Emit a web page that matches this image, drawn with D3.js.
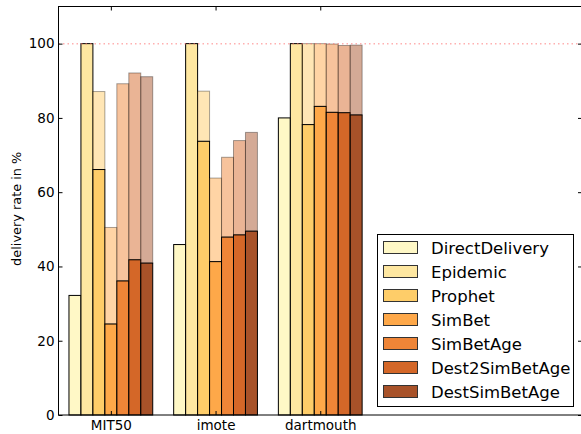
<!DOCTYPE html>
<html>
<head>
<meta charset="utf-8">
<script src="https://cdn.jsdelivr.net/npm/d3@7"></script>
<style>
  body { margin: 0; background: #fff; }
  svg { display: block; font-family: "DejaVu Sans", sans-serif; }
</style>
</head>
<body>
<div id="container"></div>
<script>
const categories = ['MIT50', 'imote', 'dartmouth'];
const seriesNames = ['DirectDelivery', 'Epidemic', 'Prophet', 'SimBet', 'SimBetAge', 'Dest2SimBetAge', 'DestSimBetAge'];
// delivered messages (solid part), one array per series, per category
const delivered = [
  [32.2, 45.9, 80.0],
  [100, 100, 100],
  [66.1, 73.7, 78.2],
  [24.5, 41.3, 83.1],
  [36.1, 47.9, 81.5],
  [41.8, 48.5, 81.4],
  [40.9, 49.5, 80.8],
];
// upper light part (null = none)
const upper = [
  null,
  null,
  [87.1, 87.2, 100],
  [50.5, 63.8, 100],
  [89.2, 69.4, 99.9],
  [92.1, 73.9, 99.5],
  [91.1, 76.1, 99.6],
];
const yTicks = [0, 20, 40, 60, 80, 100];
const colors = ['#fff7bc', '#fee391', '#fec44f', '#fe9929', '#ec7014', '#cc4c02', '#993404'];

const width = 581;
const height = 434;
const margin = { left: 58.5, top: 6.5, right: 582, bottom: 415 };

const svg = d3.select('#container')
  .append('svg')
  .attr('width', width)
  .attr('height', height);

const xScale = d3.scaleLinear().domain([-0.5, 4.5]).range([margin.left, margin.right]);
const yScale = d3.scaleLinear().domain([0, 110]).range([margin.bottom, margin.top]);
const groupWidth = 0.8;
const barW = groupWidth / seriesNames.length;

// bars
const bars = svg.append('g');
seriesNames.forEach((name, s) => {
  categories.forEach((c, i) => {
    const x0 = xScale(i - groupWidth / 2 + s * barW);
    const x1 = xScale(i - groupWidth / 2 + (s + 1) * barW);
    const v = delivered[s][i];
    if (upper[s]) {
      const u = upper[s][i];
      bars.append('rect')
        .attr('x', x0)
        .attr('y', yScale(u))
        .attr('width', x1 - x0)
        .attr('height', yScale(v) - yScale(u))
        .attr('fill', colors[s])
        .attr('fill-opacity', 0.42)
        .attr('stroke', '#000')
        .attr('stroke-opacity', 0.35)
        .attr('stroke-width', 1);
    }
    bars.append('rect')
      .attr('x', x0)
      .attr('y', yScale(v))
      .attr('width', x1 - x0)
      .attr('height', yScale(0) - yScale(v))
      .attr('fill', colors[s])
      .attr('fill-opacity', 0.85)
      .attr('stroke', '#000')
      .attr('stroke-width', 1);
  });
});

// 100% reference line
svg.append('line')
  .attr('x1', margin.left)
  .attr('x2', margin.right)
  .attr('y1', yScale(100))
  .attr('y2', yScale(100))
  .attr('stroke', '#ff7070')
  .attr('stroke-opacity', 0.55)
  .attr('stroke-width', 1.5)
  .attr('stroke-dasharray', '1.5,3');

// axes
const styleAxis = (g) => {
  g.select('.domain').remove();
  g.selectAll('.tick line').attr('stroke', '#000');
  g.selectAll('.tick text').attr('fill', '#000').attr('font-size', '13.5px').attr('font-family', 'DejaVu Sans');
};
svg.append('g')
  .attr('transform', `translate(${margin.left},0)`)
  .call(d3.axisLeft(yScale).tickValues(yTicks).tickSize(-4).tickPadding(4))
  .call(styleAxis);
svg.append('g')
  .attr('transform', `translate(${margin.right},0)`)
  .call(d3.axisRight(yScale).tickValues(yTicks).tickSize(-4).tickFormat(''))
  .call(styleAxis);
svg.append('g')
  .attr('transform', `translate(0,${margin.bottom})`)
  .call(d3.axisBottom(xScale).tickValues([0, 1, 2]).tickSize(-4).tickPadding(5).tickFormat((d) => categories[d]))
  .call(styleAxis);
svg.append('g')
  .attr('transform', `translate(0,${margin.top})`)
  .call(d3.axisTop(xScale).tickValues([0, 1, 2]).tickSize(-4).tickFormat(''))
  .call(styleAxis);

// frame
svg.append('rect')
  .attr('x', margin.left)
  .attr('y', margin.top)
  .attr('width', margin.right - margin.left)
  .attr('height', margin.bottom - margin.top)
  .attr('fill', 'none')
  .attr('stroke', '#000')
  .attr('stroke-width', 1);

// y label
svg.append('text')
  .attr('transform', `translate(21,${(margin.top + margin.bottom) / 2 - 2}) rotate(-90)`)
  .attr('text-anchor', 'middle')
  .attr('font-size', '12.9px')
  .text('delivery rate in %');

// legend
const legend = svg.append('g');
legend.append('rect')
  .attr('x', 377.5)
  .attr('y', 234.5)
  .attr('width', 196)
  .attr('height', 172)
  .attr('fill', '#fff')
  .attr('stroke', '#000')
  .attr('stroke-width', 1);
seriesNames.forEach((name, s) => {
  const cy = 247.5 + s * 24;
  legend.append('rect')
    .attr('x', 383.5)
    .attr('y', cy - 6)
    .attr('width', 34)
    .attr('height', 12)
    .attr('fill', colors[s])
    .attr('fill-opacity', 0.85)
    .attr('stroke', '#333')
    .attr('stroke-width', 1);
  legend.append('text')
    .attr('x', 431)
    .attr('y', cy + 6)
    .attr('font-size', '16.5px')
    .text(name);
});
</script>
</body>
</html>
